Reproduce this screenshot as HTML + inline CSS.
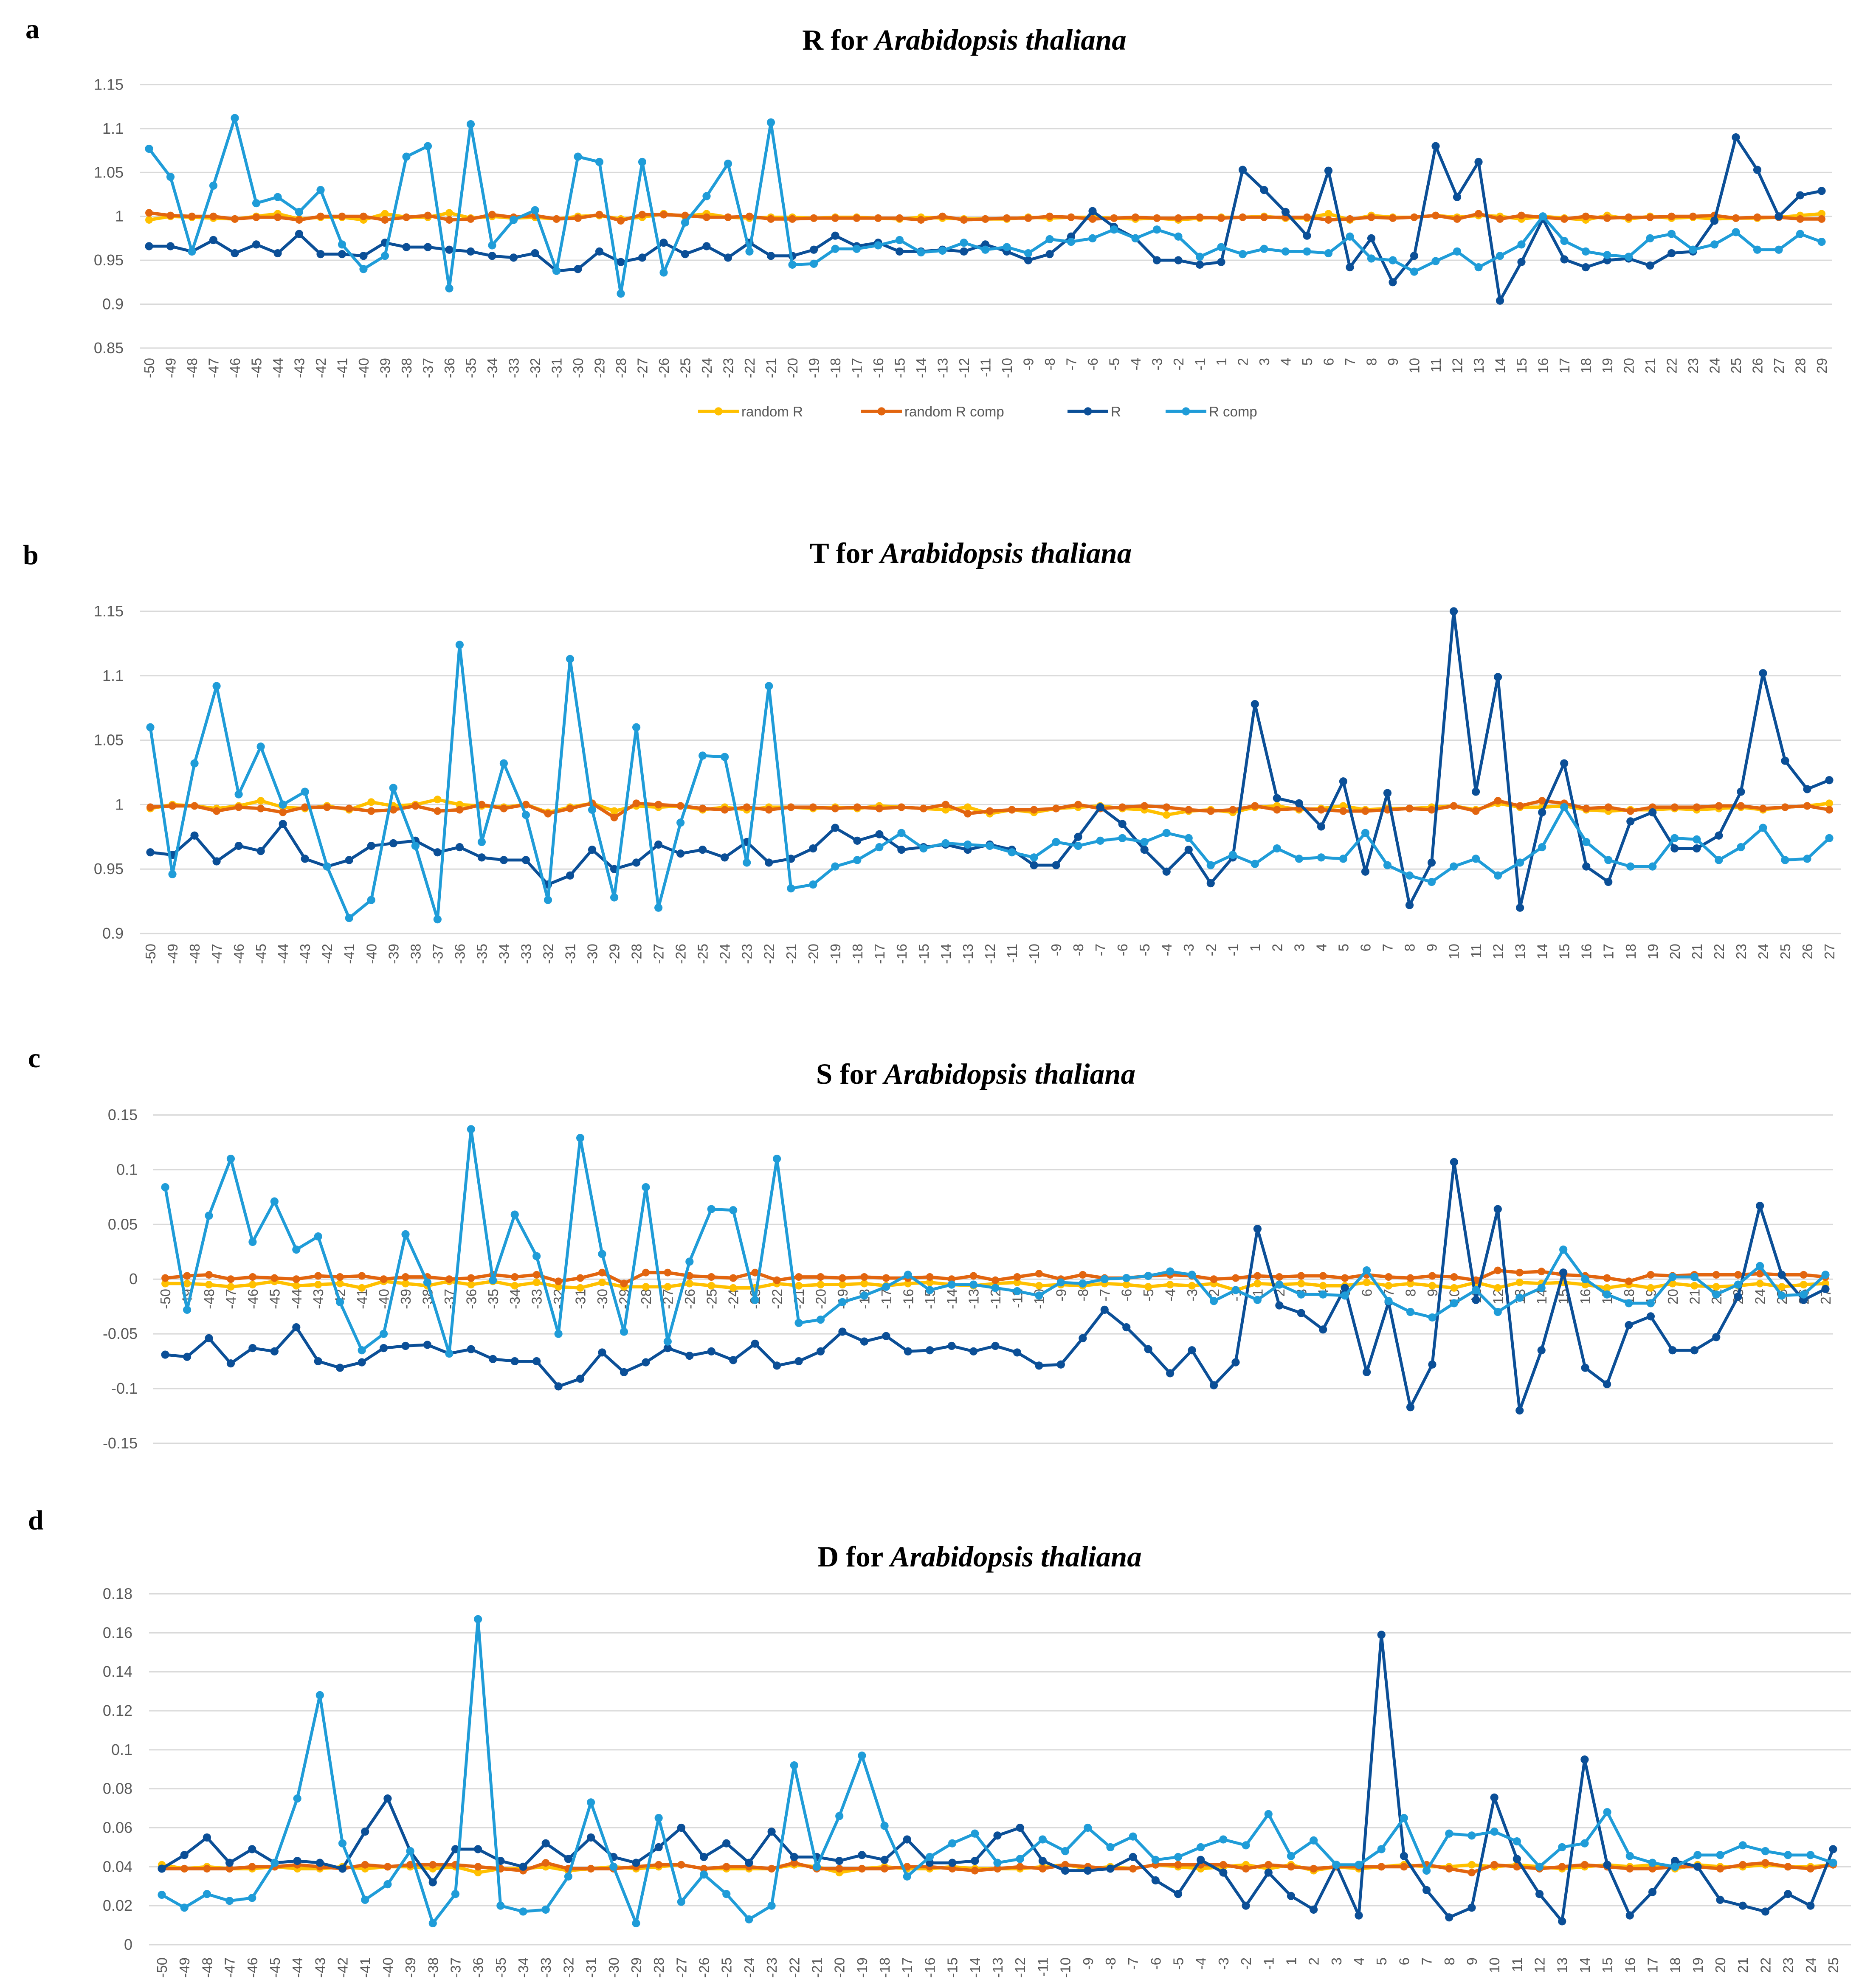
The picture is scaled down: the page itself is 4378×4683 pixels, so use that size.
<!DOCTYPE html>
<html><head><meta charset="utf-8">
<style>
html,body{margin:0;padding:0;background:#fff;}
svg{display:block;}
</style></head>
<body>
<svg id="fig" xmlns="http://www.w3.org/2000/svg" width="4378" height="4683" viewBox="0 0 1459.33 1561" font-family="'Liberation Sans', sans-serif">
<rect x="0" y="0" width="1459.33" height="1561" fill="#fff"/>
</svg>
<script>
// ---------- Chart a: R ----------
const aTicks = ["0.85","0.9","0.95","1","1.05","1.1","1.15"];
const aRandR = [0.996,1.0,0.999,0.998,0.997,1.0,1.003,0.997,0.999,0.999,
0.996,1.003,0.999,0.999,1.004,0.998,1.0,0.998,0.999,0.997,
1.0,1.001,0.997,0.999,1.003,1.0,1.003,0.999,0.998,0.999,
0.999,0.998,0.999,0.999,0.998,0.997,0.999,0.998,0.997,0.997,
0.997,0.999,0.998,0.999,0.999,0.998,0.997,0.998,0.996,0.998,
0.999,0.999,1.0,0.998,0.998,1.003,0.996,1.001,0.999,0.999,
1.001,0.999,1.001,1.0,0.997,1.0,0.998,0.996,1.001,0.997,
1.0,0.998,0.999,0.997,0.998,0.998,0.999,1.001,1.003];
const aRandComp = [1.004,1.001,1.0,1.0,0.997,0.999,0.999,0.996,1.0,1.0,
1.0,0.996,0.999,1.001,0.996,0.997,1.002,0.999,1.001,0.997,
0.998,1.002,0.995,1.002,1.002,1.001,0.999,0.999,1.0,0.997,
0.997,0.998,0.998,0.998,0.998,0.998,0.996,1.0,0.996,0.997,
0.998,0.998,1.0,0.999,0.997,0.998,0.999,0.998,0.998,0.999,
0.998,0.999,0.999,0.999,0.999,0.996,0.997,0.999,0.998,0.999,
1.001,0.997,1.003,0.997,1.001,0.999,0.997,1.0,0.998,0.999,
0.999,1.0,1.0,1.001,0.998,0.999,0.999,0.997,0.997];
const aR = [0.966,0.966,0.96,0.973,0.958,0.968,0.958,0.98,0.957,0.957,
0.955,0.97,0.965,0.965,0.962,0.96,0.955,0.953,0.958,0.938,
0.94,0.96,0.948,0.953,0.97,0.957,0.966,0.953,0.97,0.955,
0.955,0.962,0.978,0.966,0.97,0.96,0.96,0.962,0.96,0.968,
0.96,0.95,0.957,0.977,1.006,0.988,0.975,0.95,0.95,0.945,
0.948,1.053,1.03,1.005,0.978,1.052,0.942,0.975,0.925,0.955,
1.08,1.022,1.062,0.904,0.948,0.997,0.951,0.942,0.95,0.952,
0.944,0.958,0.96,0.995,1.09,1.053,1.0,1.024,1.029];
const aRComp = [1.077,1.045,0.96,1.035,1.112,1.015,1.022,1.005,1.03,0.968,
0.94,0.955,1.068,1.08,0.918,1.105,0.967,0.996,1.007,0.938,
1.068,1.062,0.912,1.062,0.936,0.993,1.023,1.06,0.96,1.107,
0.945,0.946,0.963,0.963,0.967,0.973,0.959,0.961,0.97,0.962,
0.965,0.958,0.974,0.971,0.975,0.985,0.975,0.985,0.977,0.954,
0.965,0.957,0.963,0.96,0.96,0.958,0.977,0.952,0.95,0.937,
0.949,0.96,0.942,0.955,0.968,1.0,0.972,0.96,0.956,0.954,
0.975,0.98,0.962,0.968,0.982,0.962,0.962,0.98,0.971];

// ---------- Chart b: T ----------
const bTicks = ["0.9","0.95","1","1.05","1.1","1.15"];
const bRandR = [0.997,1.0,0.999,0.997,0.999,1.003,0.998,0.997,0.999,0.996,
1.002,0.999,1.0,1.004,1.0,0.999,0.998,1.0,0.994,0.998,
1.001,0.995,0.999,0.998,0.999,0.996,0.998,0.996,0.998,0.998,
0.997,0.998,0.997,0.999,0.998,0.997,0.996,0.998,0.993,0.996,
0.994,0.997,0.998,0.999,0.997,0.996,0.992,0.995,0.996,0.994,
0.998,0.999,0.996,0.997,0.999,0.996,0.997,0.997,0.998,0.999,
0.996,1.001,0.998,0.998,0.999,0.996,0.995,0.996,0.996,0.997,
0.996,0.997,0.998,0.996,0.998,0.999,1.001];
const bRandComp = [0.998,0.999,0.999,0.995,0.998,0.997,0.994,0.998,0.998,0.997,
0.995,0.996,0.999,0.995,0.996,1.0,0.997,1.0,0.993,0.997,
1.001,0.99,1.001,1.0,0.999,0.997,0.996,0.998,0.996,0.998,
0.998,0.997,0.998,0.997,0.998,0.997,1.0,0.993,0.995,0.996,
0.996,0.997,1.0,0.997,0.998,0.999,0.998,0.996,0.995,0.996,
0.999,0.996,0.997,0.996,0.995,0.995,0.996,0.997,0.996,0.999,
0.995,1.003,0.999,1.003,1.001,0.997,0.998,0.995,0.998,0.998,
0.998,0.999,0.999,0.997,0.998,0.999,0.996];
const bR = [0.963,0.961,0.976,0.956,0.968,0.964,0.985,0.958,0.952,0.957,
0.968,0.97,0.972,0.963,0.967,0.959,0.957,0.957,0.938,0.945,
0.965,0.95,0.955,0.969,0.962,0.965,0.959,0.971,0.955,0.958,
0.966,0.982,0.972,0.977,0.965,0.967,0.969,0.965,0.969,0.965,
0.953,0.953,0.975,0.998,0.985,0.965,0.948,0.965,0.939,0.959,
1.078,1.005,1.001,0.983,1.018,0.948,1.009,0.922,0.955,1.15,
1.01,1.099,0.92,0.994,1.032,0.952,0.94,0.987,0.994,0.966,
0.966,0.976,1.01,1.102,1.034,1.012,1.019];
const bRComp = [1.06,0.946,1.032,1.092,1.008,1.045,1.0,1.01,0.952,0.912,
0.926,1.013,0.968,0.911,1.124,0.971,1.032,0.992,0.926,1.113,
0.996,0.928,1.06,0.92,0.986,1.038,1.037,0.955,1.092,0.935,
0.938,0.952,0.957,0.967,0.978,0.966,0.97,0.969,0.968,0.963,
0.959,0.971,0.968,0.972,0.974,0.971,0.978,0.974,0.953,0.961,
0.954,0.966,0.958,0.959,0.958,0.978,0.953,0.945,0.94,0.952,
0.958,0.945,0.955,0.967,0.998,0.971,0.957,0.952,0.952,0.974,
0.973,0.957,0.967,0.982,0.957,0.958,0.974];

// ---------- Chart c: S ----------
const cTicks = ["-0.15","-0.1","-0.05","0","0.05","0.1","0.15"];
const cRandR = [-0.004,-0.004,-0.005,-0.007,-0.005,-0.002,-0.006,-0.005,-0.004,-0.008,
-0.002,-0.004,-0.006,-0.002,-0.005,-0.002,-0.006,-0.003,-0.007,-0.008,
-0.003,-0.007,-0.007,-0.007,-0.004,-0.006,-0.008,-0.008,-0.004,-0.006,
-0.005,-0.005,-0.004,-0.006,-0.004,-0.003,-0.005,-0.006,-0.004,-0.003,
-0.006,-0.005,-0.006,-0.004,-0.005,-0.007,-0.005,-0.006,-0.004,-0.01,
-0.004,-0.005,-0.004,-0.006,-0.006,-0.003,-0.006,-0.004,-0.006,-0.008,
-0.003,-0.008,-0.003,-0.004,-0.003,-0.005,-0.008,-0.005,-0.008,-0.004,
-0.006,-0.007,-0.006,-0.004,-0.007,-0.005,-0.004];
const cRandComp = [0.001,0.003,0.004,0.0,0.002,0.001,0.0,0.003,0.002,0.003,
0.0,0.002,0.002,0.0,0.001,0.004,0.002,0.004,-0.002,0.001,
0.006,-0.004,0.006,0.006,0.003,0.002,0.001,0.006,-0.001,0.002,
0.002,0.001,0.002,0.001,0.001,0.002,0.0,0.003,-0.001,0.002,
0.005,0.0,0.004,0.001,0.001,0.003,0.004,0.003,0.0,0.001,
0.003,0.002,0.003,0.003,0.001,0.004,0.002,0.001,0.003,0.002,
-0.001,0.008,0.006,0.007,0.004,0.003,0.001,-0.002,0.004,0.003,
0.004,0.004,0.004,0.005,0.004,0.004,0.002];
const cR = [-0.069,-0.071,-0.054,-0.077,-0.063,-0.066,-0.044,-0.075,-0.081,-0.076,
-0.063,-0.061,-0.06,-0.068,-0.064,-0.073,-0.075,-0.075,-0.098,-0.091,
-0.067,-0.085,-0.076,-0.063,-0.07,-0.066,-0.074,-0.059,-0.079,-0.075,
-0.066,-0.048,-0.057,-0.052,-0.066,-0.065,-0.061,-0.066,-0.061,-0.067,
-0.079,-0.078,-0.054,-0.028,-0.044,-0.064,-0.086,-0.065,-0.097,-0.076,
0.046,-0.024,-0.031,-0.046,-0.008,-0.085,-0.021,-0.117,-0.078,0.107,
-0.019,0.064,-0.12,-0.065,0.006,-0.081,-0.096,-0.042,-0.034,-0.065,
-0.065,-0.053,-0.016,0.067,0.004,-0.019,-0.009];
const cRComp = [0.084,-0.028,0.058,0.11,0.034,0.071,0.027,0.039,-0.021,-0.065,
-0.05,0.041,-0.003,-0.068,0.137,-0.001,0.059,0.021,-0.05,0.129,
0.023,-0.048,0.084,-0.057,0.016,0.064,0.063,-0.019,0.11,-0.04,
-0.037,-0.021,-0.015,-0.007,0.004,-0.01,-0.005,-0.005,-0.008,-0.011,
-0.015,-0.003,-0.004,0.0,0.001,0.003,0.007,0.004,-0.02,-0.01,
-0.019,-0.005,-0.014,-0.014,-0.015,0.008,-0.02,-0.03,-0.035,-0.022,
-0.01,-0.03,-0.017,-0.008,0.027,0.0,-0.014,-0.022,-0.022,0.002,
0.002,-0.014,-0.005,0.012,-0.015,-0.014,0.004];

// ---------- Chart d: D ----------
const dTicks = ["0","0.02","0.04","0.06","0.08","0.1","0.12","0.14","0.16","0.18"];
const dRandR = [0.041,0.039,0.04,0.039,0.039,0.04,0.039,0.039,0.04,0.039,
0.04,0.04,0.039,0.04,0.037,0.039,0.039,0.04,0.038,0.039,
0.04,0.039,0.04,0.041,0.039,0.039,0.039,0.039,0.041,0.04,
0.037,0.039,0.04,0.039,0.039,0.04,0.039,0.039,0.039,0.04,
0.041,0.039,0.04,0.039,0.041,0.04,0.039,0.04,0.041,0.039,
0.041,0.038,0.04,0.039,0.04,0.041,0.04,0.04,0.041,0.04,
0.041,0.04,0.039,0.04,0.041,0.04,0.041,0.039,0.041,0.04,
0.04,0.041,0.04,0.04,0.041];
const dRandComp = [0.039,0.039,0.039,0.039,0.04,0.04,0.041,0.04,0.039,0.041,
0.04,0.041,0.041,0.041,0.04,0.039,0.038,0.042,0.039,0.039,
0.039,0.04,0.041,0.041,0.039,0.04,0.04,0.039,0.042,0.039,
0.039,0.039,0.039,0.04,0.04,0.039,0.038,0.039,0.04,0.039,
0.041,0.04,0.039,0.039,0.041,0.041,0.041,0.041,0.039,0.041,
0.04,0.039,0.04,0.04,0.04,0.04,0.041,0.039,0.037,0.041,
0.04,0.039,0.04,0.041,0.04,0.039,0.039,0.04,0.04,0.039,
0.041,0.042,0.04,0.039,0.041];
const dR = [0.039,0.046,0.055,0.042,0.049,0.042,0.043,0.042,0.039,0.058,
0.075,0.048,0.032,0.049,0.049,0.043,0.04,0.052,0.044,0.055,
0.045,0.042,0.05,0.06,0.045,0.052,0.042,0.058,0.045,0.045,
0.043,0.046,0.0435,0.054,0.042,0.042,0.043,0.056,0.06,0.043,
0.038,0.038,0.039,0.045,0.033,0.026,0.0435,0.037,0.02,0.037,
0.025,0.018,0.041,0.015,0.159,0.0455,0.028,0.014,0.019,0.0755,
0.044,0.026,0.012,0.095,0.041,0.015,0.027,0.043,0.04,0.023,
0.02,0.017,0.026,0.02,0.049];
const dRComp = [0.0256,0.019,0.026,0.0225,0.024,0.042,0.075,0.128,0.052,0.023,
0.031,0.048,0.011,0.026,0.167,0.02,0.017,0.018,0.035,0.073,
0.04,0.011,0.065,0.022,0.036,0.026,0.013,0.02,0.092,0.04,
0.066,0.097,0.061,0.035,0.045,0.052,0.057,0.042,0.044,0.054,
0.048,0.06,0.05,0.0555,0.0435,0.045,0.05,0.054,0.051,0.067,
0.0455,0.0535,0.041,0.041,0.049,0.065,0.038,0.057,0.056,0.058,
0.053,0.04,0.05,0.052,0.068,0.0455,0.042,0.04,0.046,0.046,
0.051,0.048,0.046,0.046,0.042];

const seriesNames = ["random R","random R comp","R","R comp"];
const COLORS = ["#FFC000","#E2650F","#0B4F97","#1F9CD8"];
const NS = "http://www.w3.org/2000/svg";
const svg = document.getElementById("fig");

function mk(tag, attrs, parent){
  const e = document.createElementNS(NS, tag);
  for (const k in attrs) e.setAttribute(k, attrs[k]);
  (parent||svg).appendChild(e);
  return e;
}
function cats(n){ const out=[]; for(let i=-50;i<=-1;i++) out.push(String(i)); for(let i=1;i<=n;i++) out.push(String(i)); return out; }

const charts = [
  {key:"a", letter:"a", letterX:20, letterY:30, title:"R", titleX:757, titleY:43,
   gx0:110, gx1:1438, px0:117, px1:1430, yTop:66.5, yBot:273.3, min:0.85, max:1.15,
   ticks:aTicks, tickX:97, xLabTop:281, data:[aRandR,aRandComp,aR,aRComp], legend:true},
  {key:"b", letter:"b", letterX:18, letterY:443, title:"T", titleX:762, titleY:446,
   gx0:110, gx1:1445, px0:118, px1:1436, yTop:480, yBot:733, min:0.9, max:1.15,
   ticks:bTicks, tickX:97, xLabTop:741, data:[bRandR,bRandComp,bR,bRComp]},
  {key:"c", letter:"c", letterX:22, letterY:838, title:"S", titleX:766, titleY:855,
   gx0:120, gx1:1439, px0:129.7, px1:1433, yTop:875.5, yBot:1133.3, min:-0.15, max:0.15,
   ticks:cTicks, tickX:108, xLabTop:1012, data:[cRandR,cRandComp,cR,cRComp]},
  {key:"d", letter:"d", letterX:22, letterY:1201, title:"D", titleX:769, titleY:1234,
   gx0:117, gx1:1453, px0:127, px1:1439, yTop:1251.5, yBot:1527, min:0, max:0.18,
   ticks:dTicks, tickX:104, xLabTop:1537, data:[dRandR,dRandComp,dR,dRComp]}
];

charts.forEach(ch => {
  const n = ch.data[0].length;
  const labels = cats(n - 50);
  const yS = v => ch.yBot - (v - ch.min) / (ch.max - ch.min) * (ch.yBot - ch.yTop);
  const xS = i => ch.px0 + i * (ch.px1 - ch.px0) / (n - 1);
  const g = mk("g", {});
  
  

  const letter = mk("text", {x:ch.letterX, y:ch.letterY, "font-family":"'Liberation Serif', serif", "font-weight":"bold", "font-size":"22", fill:"#000"}, g);
  letter.textContent = ch.letter;
  
  

  const t = mk("text", {x:ch.titleX, y:ch.titleY - 4, "text-anchor":"middle", "font-family":"'Liberation Serif', serif", "font-weight":"bold", "font-size":"23", fill:"#000"}, g);
  
  
  const ts1 = mk("tspan", {}, t); ts1.textContent = ch.title + " for ";
  const ts2 = mk("tspan", {"font-style":"italic"}, t); ts2.textContent = "Arabidopsis thaliana";

  ch.ticks.forEach(lbl => {
    const v = parseFloat(lbl);
    const y = yS(v);
    const gl = mk("line", {x1:ch.gx0, x2:ch.gx1, y1:y, y2:y, stroke:"#d9d9d9", "stroke-width":"1"}, g);
    
    
    const tl = mk("text", {x:ch.tickX, y:y+4, "text-anchor":"end", "font-size":"12", fill:"#595959"}, g);
    tl.textContent = lbl;
    
    
  });

  labels.forEach((lbl, i) => {
    const x = xS(i) + 4;
    const tx = mk("text", {transform:"translate(" + x + "," + ch.xLabTop + ") rotate(-90)", "text-anchor":"end", "font-size":"11", fill:"#595959"}, g);
    tx.textContent = lbl;
    
    
  });

  ch.data.forEach((vals, s) => {
    const pts = vals.map((v, i) => xS(i).toFixed(2) + "," + yS(v).toFixed(2)).join(" ");
    const sg = mk("g", {}, g);
    
    
    const pl = mk("polyline", {points:pts, fill:"none", stroke:COLORS[s], "stroke-width": s < 2 ? "2.6" : "2.3", "stroke-linejoin":"round"}, sg);
    
    
    vals.forEach((v, i) => {
      const c = mk("circle", {cx:xS(i), cy:yS(v), r: s < 2 ? "3" : "3.2", fill:COLORS[s]}, sg);
      
      
    });
  });

  if (ch.legend) {
    const lx = [548, 676, 838, 915];
    const lg = mk("g", {}, g);
    
    
    seriesNames.forEach((nm, s) => {
      const eg = mk("g", {}, lg);
      
      
      mk("line", {x1:lx[s], x2:lx[s]+32, y1:323, y2:323, stroke:COLORS[s], "stroke-width":"2.6"}, eg);
      mk("circle", {cx:lx[s]+16, cy:323, r:"3.2", fill:COLORS[s]}, eg);
      const lt = mk("text", {x:lx[s]+34, y:327, "font-size":"11", fill:"#595959"}, eg);
      lt.textContent = nm;
      
      
    });
  }
});
</script>
</body></html>
